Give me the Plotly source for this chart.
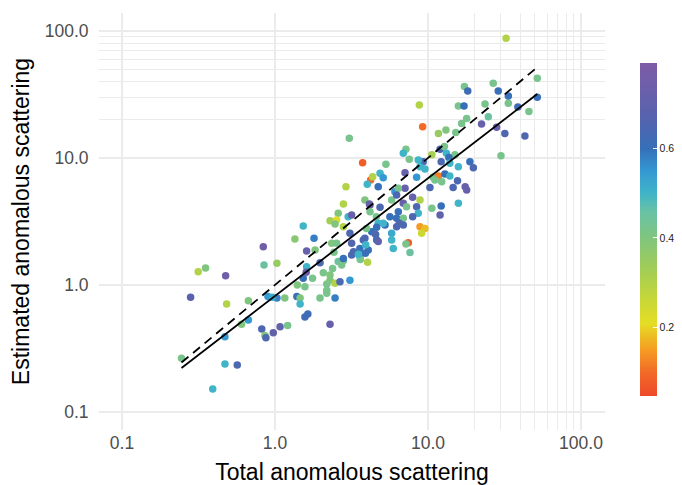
import plotly.graph_objects as go

# ---- data ----
total = [0.245, 0.281, 0.315, 0.352, 0.392, 0.471, 0.567, 0.476, 0.483, 0.471,
         0.67, 0.67, 0.605, 0.839, 0.848, 1.03, 0.82, 0.86, 0.873, 0.975,
         1.08, 1.21, 0.90, 1.03, 0.96, 1.16, 1.35, 1.53, 1.80, 1.61,
         1.83, 1.39, 1.46, 1.46, 1.40, 1.57, 1.53, 1.61, 1.76, 1.57,
         1.64, 2.29, 1.97, 2.07, 2.18, 2.29, 2.18, 2.29, 2.38, 2.47,
         2.47, 2.66, 3.09, 2.35, 2.43, 2.53, 2.59, 2.73, 2.80, 2.80,
         2.29, 2.59, 2.53, 2.47, 2.80, 3.01, 3.17, 3.09, 3.17, 3.17,
         3.59, 3.59, 3.78, 4.07, 4.03, 3.61, 4.18, 4.18, 4.60, 4.29,
         4.62, 4.72, 3.06, 3.74, 5.31, 4.86, 5.10, 4.22, 4.35, 4.01,
         4.73, 2.91, 6.08, 3.87, 4.14, 4.86, 1.97, 5.79, 5.79, 5.93,
         4.73, 4.55, 4.62, 5.24, 6.24, 6.24, 3.97, 3.87, 3.92, 3.90,
         3.26, 2.80, 8.78, 9.23, 15.8, 17.2, 17.9, 16.6, 23.6, 24.8,
         22.4, 28.1, 31.8, 33.5, 38.7, 30.0, 11.7, 13.1, 15.2, 12.0,
         12.8, 13.2, 15.0, 13.7, 12.2, 13.9, 15.8, 18.8, 19.8, 10.6,
         9.31, 8.64, 8.87, 7.18, 6.90, 7.55, 9.55, 10.8, 11.7, 12.3,
         12.9, 13.9, 15.6, 14.6, 17.5, 17.9, 15.8, 12.2, 12.0, 10.6,
         10.3, 11.1, 7.08, 8.43, 7.08, 6.40, 7.94, 8.87, 8.43, 8.64,
         7.94, 6.90, 7.24, 6.40, 5.79, 6.24, 6.90, 6.50, 6.90, 5.64,
         5.10, 8.87, 9.55, 9.09, 7.44, 7.18, 7.63, 32.4, 51.8, 51.8,
         33.5, 28.8, 26.7, 45.7, 43.0, 17.3, 18.2, 1.60, 2.18, 3.51]

estimated = [0.265, 0.80, 1.27, 1.36, 0.152, 0.239, 0.234, 1.18, 0.71, 0.392,
             0.75, 0.53, 0.49, 2.0, 1.44, 1.48, 0.45, 0.40, 0.385, 0.42,
             0.47, 0.48, 0.81, 0.79, 0.80, 0.79, 2.30, 2.92, 2.33, 1.85,
             1.89, 0.81, 0.79, 0.71, 1.0, 0.97, 1.13, 1.39, 1.13, 0.56,
             0.59, 0.49, 0.79, 1.25, 1.02, 1.09, 0.91, 1.20, 1.35, 0.79,
             1.03, 1.06, 1.09, 2.13, 1.81, 2.13, 1.53, 1.44, 1.55, 4.34,
             3.21, 3.67, 3.25, 3.02, 2.88, 3.45, 3.56, 2.55, 2.13, 1.72,
             1.94, 1.67, 2.26, 1.89, 1.51, 1.59, 4.27, 3.78, 3.45, 2.63,
             2.26, 3.06, 14.3, 9.18, 8.92, 7.57, 7.0, 6.71, 7.13, 6.21,
             5.94, 5.94, 5.43, 4.67, 4.34, 4.09, 1.50, 2.55, 2.26, 1.94,
             2.20, 2.50, 2.85, 2.97, 2.88, 3.35, 2.79, 2.33, 2.07, 1.78,
             1.83, 1.62, 26.1, 17.6, 25.7, 25.7, 20.5, 18.7, 26.6, 21.1,
             18.5, 17.5, 15.6, 27.0, 25.2, 10.4, 15.6, 16.6, 15.9, 11.7,
             12.3, 10.9, 10.6, 10.1, 9.35, 9.08, 8.55, 9.35, 8.40, 10.6,
             9.35, 9.64, 8.55, 11.7, 10.9, 9.77, 8.19, 7.05, 7.21, 6.51,
             7.48, 7.21, 6.63, 5.87, 5.94, 5.60, 4.40, 4.19, 3.56, 4.02,
             5.87, 6.71, 7.67, 7.05, 5.77, 5.77, 4.90, 4.67, 4.14, 3.67,
             3.45, 4.40, 4.14, 3.78, 4.67, 5.12, 3.35, 3.06, 2.97, 3.45,
             3.06, 2.88, 2.79, 2.55, 2.15, 2.10, 1.80, 87.7, 42.4, 30.1,
             30.8, 33.7, 38.8, 23.2, 14.9, 36.5, 33.7, 1.26, 0.86, 1.75]

fraction = [0.42, 0.68, 0.30, 0.40, 0.50, 0.50, 0.65, 0.75, 0.30, 0.55,
            0.40, 0.55, 0.40, 0.75, 0.45, 0.35, 0.65, 0.40, 0.65, 0.70,
            0.70, 0.42, 0.55, 0.58, 0.52, 0.40, 0.38, 0.50, 0.58, 0.72,
            0.40, 0.60, 0.40, 0.50, 0.40, 0.42, 0.60, 0.50, 0.42, 0.62,
            0.62, 0.72, 0.42, 0.42, 0.42, 0.40, 0.42, 0.40, 0.42, 0.58,
            0.30, 0.65, 0.55, 0.40, 0.42, 0.42, 0.45, 0.42, 0.42, 0.30,
            0.33, 0.40, 0.22, 0.40, 0.30, 0.50, 0.72, 0.65, 0.66, 0.65,
            0.60, 0.52, 0.65, 0.60, 0.30, 0.42, 0.72, 0.42, 0.42, 0.60,
            0.60, 0.50, 0.42, 0.08, 0.42, 0.50, 0.55, 0.10, 0.30, 0.50,
            0.60, 0.30, 0.55, 0.40, 0.72, 0.65, 0.65, 0.52, 0.50, 0.50,
            0.70, 0.65, 0.60, 0.60, 0.65, 0.60, 0.42, 0.65, 0.50, 0.60,
            0.65, 0.60, 0.30, 0.10, 0.42, 0.60, 0.42, 0.42, 0.42, 0.45,
            0.72, 0.72, 0.65, 0.42, 0.62, 0.42, 0.35, 0.40, 0.42, 0.65,
            0.42, 0.50, 0.42, 0.60, 0.65, 0.50, 0.50, 0.60, 0.65, 0.32,
            0.65, 0.50, 0.50, 0.42, 0.50, 0.42, 0.50, 0.42, 0.12, 0.42,
            0.60, 0.50, 0.65, 0.65, 0.72, 0.72, 0.50, 0.60, 0.70, 0.42,
            0.65, 0.42, 0.72, 0.55, 0.72, 0.42, 0.72, 0.30, 0.65, 0.50,
            0.65, 0.72, 0.42, 0.60, 0.42, 0.65, 0.42, 0.65, 0.65, 0.60,
            0.50, 0.15, 0.18, 0.25, 0.08, 0.42, 0.45, 0.30, 0.42, 0.60,
            0.60, 0.60, 0.42, 0.42, 0.65, 0.42, 0.62, 0.72, 0.42, 0.50]

# fitted power-law line and identity line (end points)
fit_x = [0.245, 51.8]
fit_y = [0.222, 31.9]
identity_x = [0.245, 51.8]
identity_y = [0.245, 51.8]

major_ticks = [0.1, 1, 10, 100]
major_labels = ["0.1", "1.0", "10.0", "100.0"]
minor_ticks = [20, 30, 40, 50, 60, 70, 80, 90]
cbar_ticks = [0.2, 0.4, 0.6]
cbar_labels = ["0.2", "0.4", "0.6"]
c_min, c_max = 0.048, 0.79

colorscale = [
    [0.00, "#EE4A2A"], [0.07, "#F26A27"], [0.137, "#F59B23"],
    [0.218, "#E5DD25"], [0.30, "#C2D63B"], [0.38, "#A2CD56"],
    [0.474, "#80C57E"], [0.553, "#69C2A5"], [0.609, "#40B4C8"],
    [0.677, "#3498D2"], [0.741, "#3670B8"], [0.838, "#5763AE"],
    [1.00, "#7E5BA7"],
]

FONT = "Liberation Sans, Arial, Helvetica, sans-serif"
GRID = "#EBEBEB"

fig = go.Figure()
fig.add_trace(go.Scatter(
    x=total, y=estimated, mode="markers",
    marker=dict(size=7.5, color=fraction, colorscale=colorscale,
                cmin=c_min, cmax=c_max, line=dict(width=0),
                colorbar=dict(
                    thickness=17, lenmode="pixels", len=333,
                    x=1.069, xanchor="left", y=0.481, yanchor="middle",
                    xpad=0, ypad=0, outlinewidth=0,
                    tickmode="array", tickvals=cbar_ticks, ticktext=cbar_labels,
                    ticks="inside", ticklen=4, tickcolor="white", tickwidth=1,
                    tickfont=dict(size=10.5, color="#222222", family=FONT),
                )),
    showlegend=False, hoverinfo="skip"))
fig.add_trace(go.Scatter(
    x=identity_x, y=identity_y, mode="lines",
    line=dict(color="black", width=1.8, dash="9px,6px"), showlegend=False))
fig.add_trace(go.Scatter(
    x=fit_x, y=fit_y, mode="lines",
    line=dict(color="black", width=1.8), showlegend=False))

axis_common = dict(
    type="log", tickmode="array", tickvals=major_ticks, ticktext=major_labels,
    showgrid=True, gridcolor=GRID, gridwidth=2, zeroline=False, showline=False,
    tickcolor="rgba(0,0,0,0)",
    tickfont=dict(size=17.5, color="#4D4D4D", family=FONT),
    minor=dict(tickmode="array", tickvals=minor_ticks, showgrid=True,
               gridcolor=GRID, gridwidth=1, ticks=""),
    automargin=False,
)

# the page body adds an 8px offset; the figure is sized so it fits the window
fig.update_layout(
    width=674, height=477,
    margin=dict(l=91, r=77, t=5, b=55, autoexpand=False),
    paper_bgcolor="white", plot_bgcolor="white",
    font=dict(family=FONT),
    xaxis=dict(axis_common, range=[-1.150, 2.157], ticks="", ticklen=0,
               title=dict(text="Total anomalous scattering",
                          font=dict(size=23, color="black", family=FONT), standoff=12)),
    yaxis=dict(axis_common, range=[-1.142, 2.142], ticks="outside", ticklen=6,
               title=dict(text="Estimated anomalous scattering",
                          font=dict(size=23, color="black", family=FONT), standoff=8)),
)

fig.write_html("out.html")
